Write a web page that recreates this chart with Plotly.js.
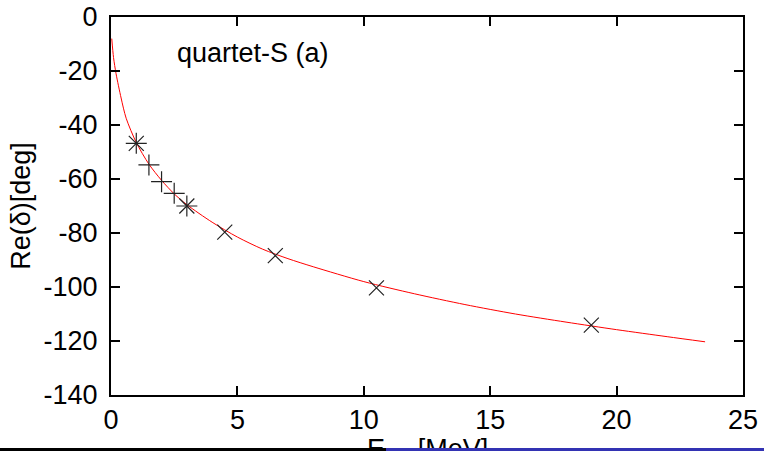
<!DOCTYPE html>
<html>
<head>
<meta charset="utf-8">
<script src="https://cdn.plot.ly/plotly-3.0.1.min.js"></script>
<style>
html,body{margin:0;padding:0;background:#fff;overflow:hidden;}
#wrap{position:relative;width:764px;height:451px;}
#plot{position:absolute;left:0;top:0;width:764px;height:451px;}
.bar{position:absolute;height:3px;top:448px;}
</style>
</head>
<body>
<div id="wrap">
<div id="plot"></div>
<div class="bar" style="left:0;width:386px;background:#000;"></div>
<div class="bar" style="left:386px;width:378px;background:#3333b3;"></div>
</div>
<script>
// Fitted curve
const curveE = [0.03, 0.1, 0.2, 0.4, 0.6, 1.0, 1.5, 2.0, 2.5, 3.0, 4.0, 5.0, 6.0, 7.0, 8.0, 10.0, 12.0, 14.0, 16.0, 18.0, 20.0, 22.0, 23.5];
const curveDelta = [-8, -15, -21, -30, -37.5, -46.5, -54.5, -60.5, -65.5, -69.5, -76, -81.5, -86, -89.5, -92.5, -98, -102.5, -106.5, -110, -113, -115.8, -118.4, -120.3];

// Plus-marker data
const plusE = [1.0, 1.5, 2.0, 2.5, 3.0];
const plusDelta = [-46.8, -54.8, -61.0, -65.3, -70.0];

// Cross-marker data
const crossE = [1.0, 3.0, 4.5, 6.5, 10.5, 19.0];
const crossDelta = [-46.8, -70.0, -79.7, -88.4, -100.3, -114.1];

const xTicks = [0, 5, 10, 15, 20, 25];
const yTicks = [0, -20, -40, -60, -80, -100, -120, -140];

const xTitle = 'E<sub>cm</sub> [MeV]';
const yTitle = 'Re(δ)[deg]';
const panelLabel = 'quartet-S (a)';

const font = {family: '"Liberation Sans", Arial, Helvetica, sans-serif', size: 27, color: '#000'};

const traces = [
  {x: curveE, y: curveDelta, type: 'scatter', mode: 'lines',
   line: {color: '#ff0000', width: 1, shape: 'spline', smoothing: 0.8}, hoverinfo: 'skip'},
  {x: plusE, y: plusDelta, type: 'scatter', mode: 'markers',
   marker: {symbol: 'cross-thin-open', size: 15, color: '#222', line: {color: '#222', width: 1.2}}},
  {x: crossE, y: crossDelta, type: 'scatter', mode: 'markers',
   marker: {symbol: 'x-thin-open', size: 15, color: '#222', line: {color: '#222', width: 1.2}}}
];

const layout = {
  width: 764, height: 451,
  margin: {l: 111, r: 21, t: 17, b: 56, pad: 0},
  paper_bgcolor: '#fff', plot_bgcolor: '#fff',
  showlegend: false,
  font: font,
  xaxis: {
    range: [0, 25], tickvals: xTicks, ticktext: xTicks.map(String),
    showgrid: false, zeroline: false,
    showline: true, linecolor: '#000', linewidth: 2, mirror: 'ticks',
    ticks: 'inside', ticklen: 9, tickwidth: 2, tickcolor: '#000',
    tickfont: font
  },
  yaxis: {
    range: [-140, 0], tickvals: yTicks, ticktext: yTicks.map(String),
    showgrid: false, zeroline: false,
    showline: true, linecolor: '#000', linewidth: 2, mirror: 'ticks',
    ticks: 'inside', ticklen: 9, tickwidth: 2, tickcolor: '#000',
    tickfont: font, ticklabelstandoff: 6,
    title: {text: yTitle, font: font, standoff: 5}
  },
  annotations: [
    {x: 2.53, y: -13.3, xref: 'x', yref: 'y', text: panelLabel, showarrow: false,
     xanchor: 'left', yanchor: 'middle', font: font},
    {x: 0.5, y: -0.097, xref: 'paper', yref: 'paper', text: xTitle, showarrow: false,
     xanchor: 'center', yanchor: 'top', font: font}
  ]
};

Plotly.newPlot('plot', traces, layout, {displayModeBar: false, staticPlot: true});
</script>
</body>
</html>
